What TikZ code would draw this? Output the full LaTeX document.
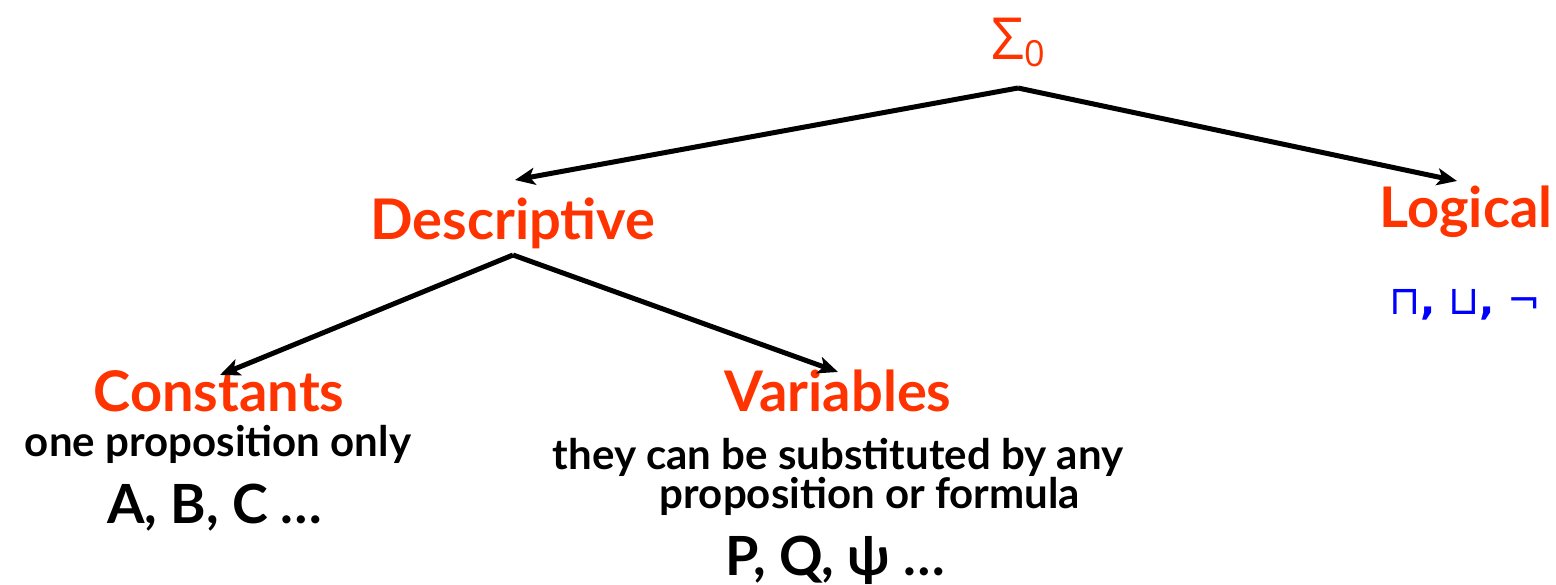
\documentclass[tikz,border=0pt]{standalone}
\usepackage{fontspec}
\setmainfont{Lato}
\newfontfamily\symfont{DejaVu Sans}
\newfontfamily\grkfont{Open Sans}
\usetikzlibrary{arrows.meta}
\definecolor{hred}{HTML}{FF3300}
\definecolor{hblue}{HTML}{0000FF}
\begin{document}
\begin{tikzpicture}[x=1pt,y=-1pt,
  head/.style={text=hred,font=\fontsize{56}{60}\selectfont\bfseries,inner sep=0pt,anchor=base},
  desc/.style={text=black,font=\fontsize{42}{46}\selectfont\bfseries,inner sep=0pt,anchor=base,align=center},
  sym/.style={text=black,font=\fontsize{54}{60}\selectfont\bfseries,inner sep=0pt,anchor=base},
  conn/.style={line width=5pt,-{Stealth[length=20pt,width=17pt,inset=5pt]}}]
\useasboundingbox (0,0) rectangle (1556,585);
\node[text=hred,inner sep=0pt,anchor=base] (sigma) at (1018,60) {{\grkfont\fontsize{58}{60}\selectfont Σ}\raisebox{-7pt}{\grkfont\fontsize{36}{40}\selectfont 0}};
\coordinate (top) at (1018,88);
\coordinate (dtop) at (513,255);
\coordinate (descend) at (515,180);
\coordinate (logend) at (1457,181);
\coordinate (consend) at (220,375);
\coordinate (varend) at (838,372);
\node[head] (descr) at (513,240) {Descriptive};
\node[head] (logic) at (1466,228) {Logical};
\node[text=hblue,font=\fontsize{40}{44}\selectfont\symfont,inner sep=0pt,anchor=base] (ops) at (1465,315) {⊓{\bfseries,} ⊔{\bfseries,} ¬};
\node[head] (cons) at (219,411) {Constants};
\node[desc] (consd) at (218,456) {one proposition only};
\node[sym] (consx) at (215,523) {A, B, C …};
\node[head] (vars) at (838,411) {Variables};
\node[desc] (vard1) at (838,469) {they can be substituted by any};
\node[desc] (vard2) at (870,508) {proposition or formula};
\node[sym] (varx) at (835,575) {P, Q, ψ …};
\draw[conn] (top) -- (descend);
\draw[conn] (top) -- (logend);
\draw[conn] (dtop) -- (consend);
\draw[conn] (dtop) -- (varend);
\end{tikzpicture}
\end{document}
